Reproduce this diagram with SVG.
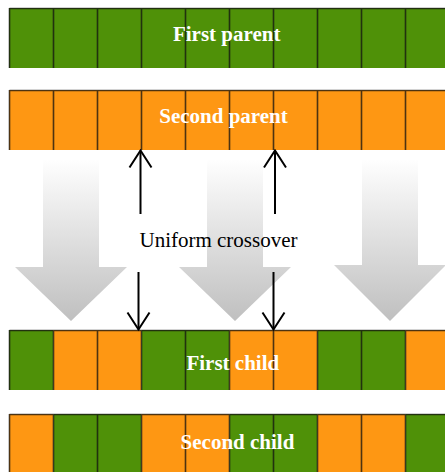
<svg xmlns="http://www.w3.org/2000/svg" width="445" height="472" viewBox="0 0 445 472">
<defs>
<linearGradient id="fade" gradientUnits="userSpaceOnUse" x1="0" y1="158" x2="0" y2="322">
<stop offset="0" stop-color="#ffffff"/>
<stop offset="1" stop-color="#bfbfbf"/>
</linearGradient>
<marker id="v" viewBox="-19 -13 21 26" refX="0" refY="0" markerWidth="21" markerHeight="26" markerUnits="userSpaceOnUse" orient="auto">
<path d="M-17,-11 L0,0 L-17,11" fill="none" stroke="#000" stroke-width="2"/>
</marker>
<g id="grid">
<path d="M9.5,8.5 H449 M9.5,8 V68 M53.5,8 V68 M97.5,8 V68 M141.5,8 V68 M185.5,8 V68 M229.5,8 V68 M273.5,8 V68 M317.5,8 V68 M361.5,8 V68 M405.5,8 V68" fill="none" stroke="#111" stroke-opacity="0.75" stroke-width="1.6"/>
</g>
</defs>
<style>
.g{fill:#4f9108}
.o{fill:#fe9713}
.lbl{font-family:"Liberation Serif","Times New Roman",serif;font-size:21px;font-weight:bold;fill:#fff;text-anchor:middle}
.txt{font-family:"Liberation Serif","Times New Roman",serif;font-size:21px;fill:#000;text-anchor:middle}
.big{fill:url(#fade)}
.con{stroke:#000;stroke-width:2;fill:none;marker-end:url(#v)}
</style>

<g id="big-arrows">
<path class="big" d="M43,160 H99 V267 H127 L71,321 L15,267 H43 Z"/>
<path class="big" d="M207,160 H263 V267 H291 L235,321 L179,267 H207 Z"/>
<path class="big" d="M362,160 H418 V265 H446 L390,321 L334,265 H362 Z"/>
</g>

<g id="first-parent">
<rect class="g" x="9" y="8" width="440" height="60"/>
<use href="#grid"/>
<text class="lbl" x="226.7" y="41">First parent</text>
</g>

<g id="second-parent">
<rect class="o" x="9" y="90" width="440" height="60"/>
<use href="#grid" y="82"/>
<text class="lbl" x="223.5" y="123">Second parent</text>
</g>

<g id="first-child">
<rect class="g" x="9" y="330" width="44.5" height="60"/>
<rect class="o" x="53.5" y="330" width="88" height="60"/>
<rect class="g" x="141.5" y="330" width="88" height="60"/>
<rect class="o" x="229.5" y="330" width="88" height="60"/>
<rect class="g" x="317.5" y="330" width="88" height="60"/>
<rect class="o" x="405.5" y="330" width="44" height="60"/>
<use href="#grid" y="322"/>
<text class="lbl" x="232.8" y="370">First child</text>
</g>

<g id="second-child">
<rect class="o" x="9" y="414" width="44.5" height="60"/>
<rect class="g" x="53.5" y="414" width="88" height="60"/>
<rect class="o" x="141.5" y="414" width="88" height="60"/>
<rect class="g" x="229.5" y="414" width="88" height="60"/>
<rect class="o" x="317.5" y="414" width="88" height="60"/>
<rect class="g" x="405.5" y="414" width="44" height="60"/>
<use href="#grid" y="406"/>
<text class="lbl" x="237.5" y="449">Second child</text>
</g>

<g id="label">
<text class="txt" x="218.5" y="246.5">Uniform crossover</text>
</g>

<g id="connectors">
<path class="con" d="M140.5,214 V150.5"/>
<path class="con" d="M275,214 V150.5"/>
<path class="con" d="M138.5,272 V329.5"/>
<path class="con" d="M273.5,272 V329.5"/>
</g>
</svg>
